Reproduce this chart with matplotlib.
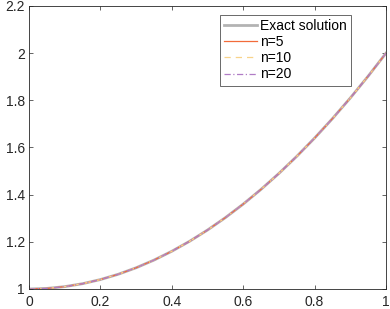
import matplotlib
matplotlib.use("Agg")
import matplotlib.pyplot as plt

x = [0.0, 0.05, 0.1, 0.15, 0.2, 0.25, 0.3, 0.35, 0.4, 0.45, 0.5,
     0.55, 0.6, 0.65, 0.7, 0.75, 0.8, 0.85, 0.9, 0.95, 1.0]
y_exact = [1.0, 1.0025, 1.01, 1.0225, 1.04, 1.0625, 1.09, 1.1225, 1.16, 1.2025, 1.25,
           1.3025, 1.36, 1.4225, 1.49, 1.5625, 1.64, 1.7225, 1.81, 1.9025, 2.0]
y_n5 = y_exact
y_n10 = y_exact
y_n20 = y_exact

xticks = [0, 0.2, 0.4, 0.6, 0.8, 1]
xticklabels = ["0", "0.2", "0.4", "0.6", "0.8", "1"]
yticks = [1, 1.2, 1.4, 1.6, 1.8, 2, 2.2]
yticklabels = ["1", "1.2", "1.4", "1.6", "1.8", "2", "2.2"]

plt.rcParams['font.family'] = ['Liberation Sans', 'DejaVu Sans']
fig = plt.figure(figsize=(3.9, 3.09), dpi=100)
ax = fig.add_axes([29/390, 1-289/309, (386-29)/390, (289-6)/309])

ax.plot(x, y_exact, color='#b3b3b3', lw=2.0, label='Exact solution')
ax.plot(x, y_n5, color='#f26b3a', lw=0.9, label='n=5')
ax.plot(x, y_n10, color='#f8d38a', lw=0.9, ls=(0, (5, 4)), label='n=10')
ax.plot(x, y_n20, color='#b07cc6', lw=0.9, ls=(0, (5, 2, 1, 2)), label='n=20')

ax.set_xlim(0, 1)
ax.set_ylim(1, 2.2)
ax.set_xticks(xticks)
ax.set_xticklabels(xticklabels)
ax.set_yticks(yticks)
ax.set_yticklabels(yticklabels)
ax.tick_params(direction='in', length=3, width=0.5, labelsize=10, colors='#262626',
               top=True, right=True)
ax.tick_params(axis='x', pad=4)
ax.tick_params(axis='y', pad=3)
for s in ax.spines.values():
    s.set_linewidth(0.6)
    s.set_color('#262626')

leg = ax.legend(loc='upper right', bbox_to_anchor=((351-29)/357, 1 - (15-6)/283),
                bbox_transform=ax.transAxes,
                fontsize=10, frameon=True, fancybox=False, handlelength=2.4,
                handletextpad=0.2, borderpad=0.3, labelspacing=0.15, borderaxespad=0)
leg.get_frame().set_edgecolor('#262626')
leg.get_frame().set_linewidth(0.6)

fig.savefig('out.png', dpi=100)
